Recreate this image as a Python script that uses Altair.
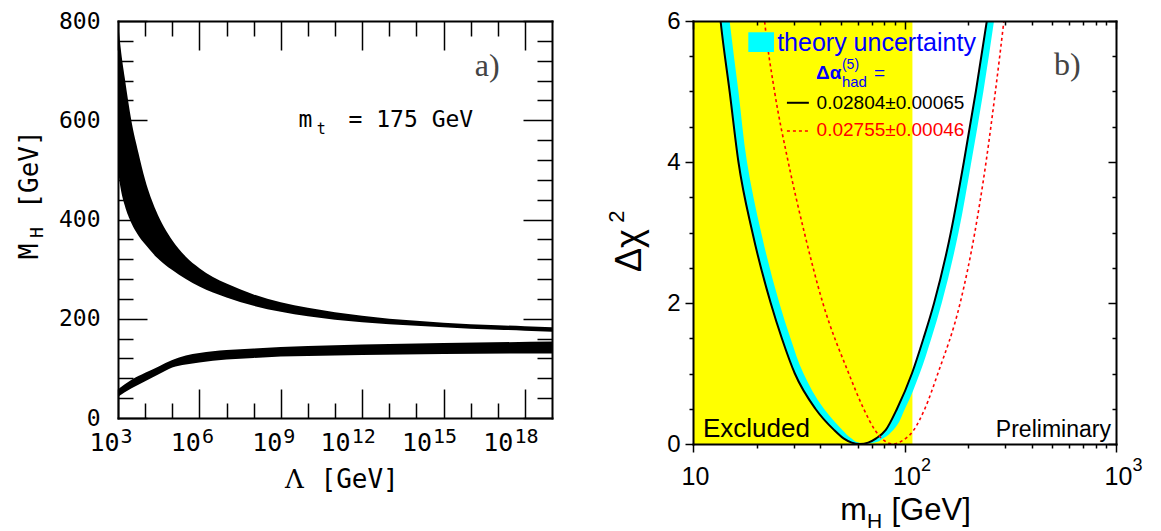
import altair as alt
import pandas as pd

# ================= panel a) : theoretical bounds on M_H =================
lam_exp_up = [3, 3.1, 3.25, 3.5, 3.75, 4, 4.4, 5, 5.5, 6, 6.5, 7, 8, 9, 10, 11, 12, 13, 14, 15, 16, 17, 18, 19]
mh_up_lo = [500, 462, 428, 392, 368, 350, 325, 298, 280, 265, 253, 243, 226, 214, 205, 198, 193, 189, 186, 183, 180, 178, 176, 174]
mh_up_hi = [800, 745, 685, 597, 535, 480, 418, 358, 325, 302, 284, 271, 249, 233, 222, 213, 206, 200, 196, 192, 189, 187, 185, 183]

lam_exp_low = [3, 3.5, 4, 4.5, 5, 5.5, 6, 7, 8, 9, 10, 12, 15, 19]
mh_low_lo = [43, 60, 74, 88, 102, 108, 112, 118, 121, 124, 125, 127, 129, 130]
mh_low_hi = [58, 77, 91, 104, 117, 126, 131, 137, 140, 143, 145, 148, 151, 154]

a_x_major = [3, 6, 9, 12, 15, 18]
a_x_single = [3, 6, 9]
a_x_double = [12, 15, 18]
a_x_minor = [4, 5, 7, 8, 10, 11, 13, 14, 16, 17]
a_y_major = [0, 200, 400, 600, 800]
a_y_minor = [40, 80, 120, 160, 240, 280, 320, 360, 440, 480, 520, 560, 640, 680, 720, 760]

a_note_text = ["m", "t", "= 175 GeV", "a)"]
a_note_e = [9.65, 10.33, 11.50, 16.15]
a_note_m = [600, 583, 600, 710]

# ================= panel b) : Delta chi^2 vs m_H =================
b_lvl_left = [6.6, 6, 5, 4, 3, 2, 1.5, 1, 0.5, 0.2, 0.08, 0.02, 0]
b_blk_left = [12.9, 13.5, 14.9, 16.4, 19.1, 23.3, 26.3, 30.3, 37.9, 46.4, 51.5, 56.3, 61.5]
b_band_left_in = [14.2, 14.9, 16.4, 18.0, 21.0, 25.6, 28.9, 33.3, 41.6, 50.8, 56.0, 60.5, 66.0]
b_lvl_right = [0, 0.02, 0.08, 0.2, 0.5, 1, 1.5, 2, 3, 4, 5, 6, 6.6]
b_blk_right = [61.5, 67.3, 73.5, 81.6, 92.2, 108.4, 123, 138, 165.6, 190.8, 217.4, 245, 262]
b_band_right_out = [66.0, 72.5, 79.5, 88.5, 100.5, 118, 134, 150, 180, 207, 236, 265, 283]

b_red_lvl = [6.5, 6, 5, 4, 3, 2, 1, 0.5, 0.2, 0.05, 0, 0.05, 0.2, 0.5, 1, 2, 3, 4, 5, 6, 6.5]
b_red_mh = [21.0, 21.8, 24.3, 28.2, 33.6, 41.1, 54.5, 64.1, 72.4, 80.0, 88.5,
            98.0, 110.7, 124.8, 143.8, 183.3, 215, 243, 269, 295, 308]

b_excl_mh = [10, 109]
b_excl_chi = [0, 6]

b_leg_box_mh = [18.26, 24.15]
b_leg_box_chi = [5.56, 5.84]
b_leg_line_mh = [27.8, 35.3]
b_leg_line_chi = [4.84, 4.44]

b_txt = ["theory uncertainty", "Δα", "(5)", "had", "=", "0.02804±0.00065", "0.02755±0.00046",
         "Excluded", "Preliminary", "b)"]
b_txt_mh = [25.0, 38.2, 50.6, 50.6, 71.8, 38.4, 38.4, 11.15, 946, 509]
b_txt_chi = [5.58, 5.26, 5.37, 5.14, 5.26, 4.84, 4.45, 0.1, 0.1, 5.38]

b_x_major = [10, 100, 1000]
b_x_exp = [100, 1000]
b_x_minor = [20, 30, 40, 50, 60, 70, 80, 90, 200, 300, 400, 500, 600, 700, 800, 900]
b_y_major = [0, 2, 4, 6]
b_y_minor = [0.5, 1, 1.5, 2.5, 3, 3.5, 4.5, 5, 5.5]

# ================= helpers =================
W1, H1 = 434, 397
W2, H2 = 423, 423
MONO = "DejaVu Sans Mono"
SANS = "Liberation Sans"
SERIF = "Liberation Serif"


def tick_axis(orient, offset, values, size, domain=False, **kw):
    return alt.Axis(orient=orient, offset=offset, values=values, ticks=True, tickSize=size,
                    tickWidth=1.5, tickColor="black", labels=False, domain=domain,
                    domainColor="black", domainWidth=2, domainCap="square", grid=False,
                    zindex=2, **kw)


def host(xv, yv, xs, ys, xaxis, yaxis):
    df = pd.DataFrame({"x": [xv], "y": [yv]})
    return alt.Chart(df).mark_point(opacity=0).encode(
        x=alt.X("x:Q", scale=xs, axis=xaxis),
        y=alt.Y("y:Q", scale=ys, axis=yaxis))


def text_layer(txt, xv, yv, xs, ys, **mk):
    df = pd.DataFrame({"x": [xv], "y": [yv], "t": [txt]})
    return alt.Chart(df).mark_text(**mk).encode(
        x=alt.X("x:Q", scale=xs, axis=None),
        y=alt.Y("y:Q", scale=ys, axis=None),
        text="t:N")


# ================= left chart =================
xa = alt.Scale(domain=[3, 19], nice=False, zero=False)
ya = alt.Scale(domain=[0, 800], nice=False, zero=False)

up_df = pd.DataFrame({"e": lam_exp_up, "lo": mh_up_lo, "hi": mh_up_hi})
low_df = pd.DataFrame({"e": lam_exp_low, "lo": mh_low_lo, "hi": mh_low_hi})

band_up = alt.Chart(up_df).mark_area(color="black", interpolate="monotone").encode(
    x=alt.X("e:Q", scale=xa, axis=None), y=alt.Y("lo:Q", scale=ya, axis=None), y2="hi:Q")
band_low = alt.Chart(low_df).mark_area(color="black", interpolate="monotone").encode(
    x=alt.X("e:Q", scale=xa, axis=None), y=alt.Y("lo:Q", scale=ya, axis=None), y2="hi:Q")

t_m = text_layer(a_note_text[0], a_note_e[0], a_note_m[0], xa, ya, font=MONO, fontSize=23, align="left", baseline="middle", color="black")
t_t = text_layer(a_note_text[1], a_note_e[1], a_note_m[1], xa, ya, font=MONO, fontSize=15, align="left", baseline="middle", color="black")
t_eq = text_layer(a_note_text[2], a_note_e[2], a_note_m[2], xa, ya, font=MONO, fontSize=23, align="left", baseline="middle", color="black")
t_a = text_layer(a_note_text[3], a_note_e[3], a_note_m[3], xa, ya, font=SERIF, fontSize=32, align="left", baseline="middle", color="#444444")

lab_common = dict(ticks=False, tickSize=0, domain=False, grid=False, labelColor="black",
                  labelFlush=False, labelOverlap=False)

ax_a_10s = alt.Axis(orient="bottom", values=a_x_single, labelExpr="'10'", labelFont=MONO, labelFontSize=25,
                    labelAlign="right", labelOffset=1, labelPadding=12, title="Λ", titleFont="DejaVu Serif",
                    titleFontSize=26, titleFontWeight="normal", titleColor="black", titleX=176, titleY=61,
                    titleAlign="center", titleBaseline="middle", **lab_common)
ax_a_10d = alt.Axis(orient="bottom", values=a_x_double, labelExpr="'10'", labelFont=MONO, labelFontSize=25,
                    labelAlign="right", labelOffset=-12, labelPadding=12, title="[GeV]", titleFont=MONO,
                    titleFontSize=26, titleFontWeight="normal", titleColor="black", titleX=202, titleY=61,
                    titleAlign="left", titleBaseline="middle", **lab_common)
ax_a_es = alt.Axis(orient="bottom", values=a_x_single, labelFont=MONO, labelFontSize=20, labelAlign="left",
                   labelOffset=2, labelPadding=8, title=None, **lab_common)
ax_a_ed = alt.Axis(orient="bottom", values=a_x_double, labelFont=MONO, labelFontSize=20, labelAlign="left",
                   labelOffset=-11, labelPadding=8, title=None, **lab_common)

ax_a_y = alt.Axis(orient="left", values=a_y_major, labelFont=MONO, labelFontSize=23, labelPadding=18,
                  title="M", titleFont=MONO, titleFontSize=26, titleFontWeight="normal", titleColor="black",
                  titleAngle=270, titleX=-89, titleY=230, titleAlign="center", titleBaseline="middle",
                  **lab_common)

left_layers = [
    band_up, band_low, t_m, t_t, t_eq, t_a,
    host(10, 400, xa, ya, ax_a_10s, ax_a_y),
    host(10, 400, xa, ya, ax_a_10d,
         tick_axis("right", -W1, a_y_major, 29, domain=True, title="H", titleFont=MONO, titleFontSize=18,
                   titleFontWeight="normal", titleColor="black", titleAngle=270, titleX=-81, titleY=211,
                   titleAlign="center", titleBaseline="middle")),
    host(10, 400, xa, ya, ax_a_es,
         tick_axis("right", -W1, a_y_minor, 15, title="[GeV]", titleFont=MONO, titleFontSize=26,
                   titleFontWeight="normal", titleColor="black", titleAngle=270, titleX=-89, titleY=148,
                   titleAlign="center", titleBaseline="middle")),
    host(10, 400, xa, ya, ax_a_ed, tick_axis("left", -W1, a_y_major, 29, domain=True, title=None)),
    host(10, 400, xa, ya, tick_axis("top", -H1, a_x_major, 29, domain=True, title=None),
         tick_axis("left", -W1, a_y_minor, 15, title=None)),
    host(10, 400, xa, ya, tick_axis("top", -H1, a_x_minor, 15, title=None), None),
    host(10, 400, xa, ya, tick_axis("bottom", -H1, a_x_major, 29, domain=True, title=None), None),
    host(10, 400, xa, ya, tick_axis("bottom", -H1, a_x_minor, 15, title=None), None),
]

left = alt.layer(*left_layers).properties(width=W1, height=H1).resolve_scale(
    x="shared", y="shared").resolve_axis(x="independent", y="independent")

# ================= right chart =================
xb = alt.Scale(type="log", domain=[10, 1000], nice=False)
yb = alt.Scale(domain=[0, 6], nice=False, zero=False)

excl_df = pd.DataFrame({"x": [b_excl_mh[0]], "x2": [b_excl_mh[1]], "y": [b_excl_chi[0]], "y2": [b_excl_chi[1]]})
excl = alt.Chart(excl_df).mark_rect(color="#ffff00").encode(
    x=alt.X("x:Q", scale=xb, axis=None), x2="x2:Q", y=alt.Y("y:Q", scale=yb, axis=None), y2="y2:Q")

bandL_df = pd.DataFrame({"chi": b_lvl_left, "m1": b_blk_left, "m2": b_band_left_in})
bandR_df = pd.DataFrame({"chi": b_lvl_right, "m1": b_blk_right, "m2": b_band_right_out})
bandL = alt.Chart(bandL_df).mark_area(orient="horizontal", color="#00ffff", clip=True, interpolate="monotone").encode(
    y=alt.Y("chi:Q", scale=yb, axis=None), x=alt.X("m1:Q", scale=xb, axis=None), x2="m2:Q")
bandR = alt.Chart(bandR_df).mark_area(orient="horizontal", color="#00ffff", clip=True, interpolate="monotone").encode(
    y=alt.Y("chi:Q", scale=yb, axis=None), x=alt.X("m1:Q", scale=xb, axis=None), x2="m2:Q")

blk_mh = b_blk_left + b_blk_right[1:]
blk_chi = b_lvl_left + b_lvl_right[1:]
blk_df = pd.DataFrame({"m": blk_mh, "chi": blk_chi, "i": list(range(len(blk_mh)))})
blk = alt.Chart(blk_df).mark_line(color="black", strokeWidth=2, clip=True, interpolate="monotone").encode(
    x=alt.X("m:Q", scale=xb, axis=None), y=alt.Y("chi:Q", scale=yb, axis=None), order="i:Q")

red_df = pd.DataFrame({"m": b_red_mh, "chi": b_red_lvl, "i": list(range(len(b_red_mh)))})
red = alt.Chart(red_df).mark_line(color="#ff0000", strokeWidth=1.6, strokeDash=[3, 3], clip=True,
                                  interpolate="monotone").encode(
    x=alt.X("m:Q", scale=xb, axis=None), y=alt.Y("chi:Q", scale=yb, axis=None), order="i:Q")

box_df = pd.DataFrame({"x": [b_leg_box_mh[0]], "x2": [b_leg_box_mh[1]], "y": [b_leg_box_chi[0]], "y2": [b_leg_box_chi[1]]})
leg_box = alt.Chart(box_df).mark_rect(color="#00ffff").encode(
    x=alt.X("x:Q", scale=xb, axis=None), x2="x2:Q", y=alt.Y("y:Q", scale=yb, axis=None), y2="y2:Q")

lb_df = pd.DataFrame({"x": [b_leg_line_mh[0]], "x2": [b_leg_line_mh[1]], "y": [b_leg_line_chi[0]]})
leg_blk = alt.Chart(lb_df).mark_rule(color="black", strokeWidth=2).encode(
    x=alt.X("x:Q", scale=xb, axis=None), x2="x2:Q", y=alt.Y("y:Q", scale=yb, axis=None))
lr_df = pd.DataFrame({"x": [b_leg_line_mh[0]], "x2": [b_leg_line_mh[1]], "y": [b_leg_line_chi[1]]})
leg_red = alt.Chart(lr_df).mark_rule(color="#ff0000", strokeWidth=1.6, strokeDash=[3, 3]).encode(
    x=alt.X("x:Q", scale=xb, axis=None), x2="x2:Q", y=alt.Y("y:Q", scale=yb, axis=None))

BLUE = "#0000ff"
txt_styles = [
    dict(font=SANS, fontSize=25, color=BLUE, align="left", baseline="alphabetic"),
    dict(font=SANS, fontSize=19, color=BLUE, align="left", baseline="middle", fontWeight="bold"),
    dict(font=SANS, fontSize=14, color=BLUE, align="left", baseline="middle"),
    dict(font=SANS, fontSize=15, color=BLUE, align="left", baseline="middle"),
    dict(font=SANS, fontSize=19, color=BLUE, align="left", baseline="middle"),
    dict(font=SANS, fontSize=19, color="black", align="left", baseline="middle"),
    dict(font=SANS, fontSize=19, color="#ff0000", align="left", baseline="middle"),
    dict(font=SANS, fontSize=26, color="black", align="left", baseline="alphabetic"),
    dict(font=SANS, fontSize=23, color="black", align="right", baseline="alphabetic"),
    dict(font=SERIF, fontSize=32, color="#444444", align="left", baseline="middle"),
]
b_texts = [text_layer(b_txt[i], b_txt_mh[i], b_txt_chi[i], xb, yb, **txt_styles[i]) for i in range(len(b_txt))]

ax_b_10 = alt.Axis(orient="bottom", values=b_x_major, labelExpr="'10'", ticks=True, tickSize=8, tickWidth=1.5,
                   tickColor="black", domain=True, domainWidth=2, domainColor="black", domainCap="square",
                   grid=False, labelFont=SANS, labelFontSize=25, labelColor="black", labelAlign="center",
                   labelOffset=2, labelPadding=12, labelFlush=False, labelOverlap=False, zindex=2,
                   title="m", titleFont=SANS, titleFontSize=32, titleFontWeight="normal", titleColor="black",
                   titleX=160, titleY=75, titleAlign="center", titleBaseline="alphabetic")
ax_b_exp = alt.Axis(orient="bottom", values=b_x_exp, labelExpr="datum.value == 100 ? '2' : '3'",
                    labelFont=SANS, labelFontSize=18, labelAlign="left", labelOffset=16, labelPadding=12,
                    title="H", titleFont=SANS, titleFontSize=21, titleFontWeight="normal", titleColor="black",
                    titleX=181, titleY=83, titleAlign="center", titleBaseline="alphabetic", **lab_common)
ax_b_xmin = tick_axis("bottom", 0, b_x_minor, 4, title="[GeV]", titleFont=SANS, titleFontSize=31,
                      titleFontWeight="normal", titleColor="black", titleX=198, titleY=75, titleAlign="left",
                      titleBaseline="alphabetic")
ax_b_y = alt.Axis(orient="left", values=b_y_major, ticks=True, tickSize=8, tickWidth=1.5, tickColor="black",
                  domain=True, domainWidth=2, domainColor="black", domainCap="square", grid=False,
                  labelFont=SANS, labelFontSize=24, labelColor="black", labelPadding=5, labelFlush=False,
                  labelOverlap=False, zindex=2,
                  title="Δχ", titleFont=SANS, titleFontSize=36, titleFontWeight="normal", titleColor="black",
                  titleAngle=270, titleX=-64, titleY=229, titleAlign="center", titleBaseline="middle")
ax_b_ymin = tick_axis("left", 0, b_y_minor, 4, title="2", titleFont=SANS, titleFontSize=22,
                      titleFontWeight="normal", titleColor="black", titleAngle=270, titleX=-77, titleY=195,
                      titleAlign="center", titleBaseline="middle")

right_layers = [excl, bandL, bandR, blk, red, leg_box, leg_blk, leg_red] + b_texts + [
    host(100, 3, xb, yb, ax_b_10, ax_b_y),
    host(100, 3, xb, yb, ax_b_exp, ax_b_ymin),
    host(100, 3, xb, yb, ax_b_xmin, tick_axis("left", -W2, b_y_major, 8, domain=True, title=None)),
    host(100, 3, xb, yb, tick_axis("bottom", -H2, b_x_major, 8, domain=True, title=None),
         tick_axis("left", -W2, b_y_minor, 4, title=None)),
    host(100, 3, xb, yb, tick_axis("bottom", -H2, b_x_minor, 4, title=None), None),
]

right = alt.layer(*right_layers).properties(width=W2, height=H2).resolve_scale(
    x="shared", y="shared").resolve_axis(x="independent", y="independent")

chart = alt.hconcat(left, right, spacing=52).configure_view(strokeWidth=0).properties(
    padding={"left": 8, "top": 1, "right": 5, "bottom": 0})

chart.save("out.html", embed_options={"renderer": "svg", "actions": False})
